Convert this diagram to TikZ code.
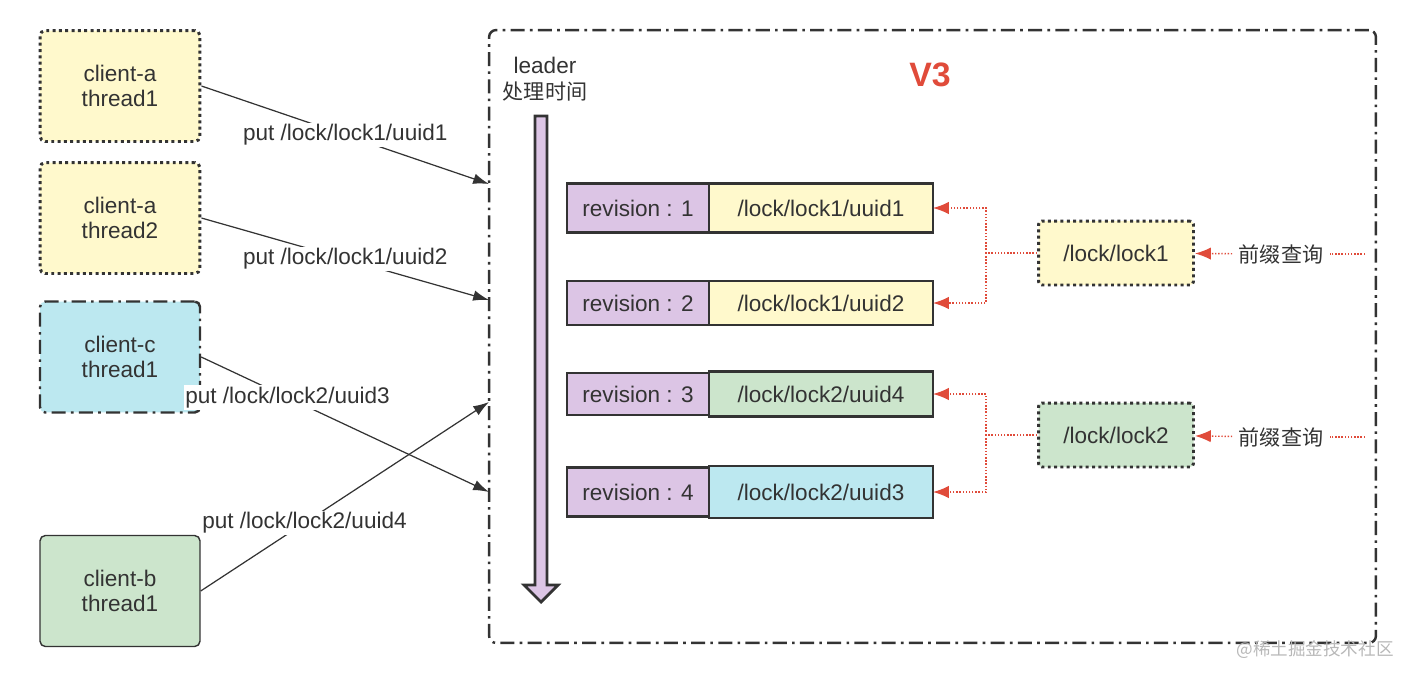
\documentclass[tikz,border=0pt]{standalone}
\usepackage{fontspec}
\setmainfont{Liberation Sans}[Scale=1.07]
\newfontfamily\cjk{Noto Sans CJK SC}
\usetikzlibrary{arrows.meta,positioning}

\begin{document}
\begin{tikzpicture}[x=0.02cm,y=-0.02cm]
	\definecolor{cline}{rgb}{0.2,0.2,0.2}
	\definecolor{cyel}{rgb}{1.0,0.976,0.8}
	\definecolor{cgrn}{rgb}{0.80,0.898,0.80}
	\definecolor{ccyan}{rgb}{0.737,0.91,0.941}
	\definecolor{cpur}{rgb}{0.863,0.773,0.898}
	\definecolor{cred}{rgb}{0.878,0.294,0.227}
	\definecolor{cmark}{rgb}{0.72,0.72,0.72}
	\tikzset{
		every node/.style={font=\fontsize{12}{14.5}\selectfont,text=cline},
		clientbox/.style={minimum width=3.2cm,minimum height=2.22cm,rounded corners=3pt,align=center,draw=cline},
		dotbox/.style={line width=1.7pt,dash pattern=on 1.7pt off 1.9pt},
		dashdot/.style={line width=1.4pt,dash pattern=on 8pt off 3pt on 1.5pt off 3pt},
		revbox/.style={draw=cline,line width=1.5pt,fill=cpur,minimum width=2.84cm,outer sep=0pt,inner sep=0pt},
		keybox/.style={draw=cline,line width=1.5pt,minimum width=4.48cm,outer sep=0pt,inner sep=0pt},
		lockbox/.style={draw=cline,dotbox,rounded corners=2pt,minimum width=3.1cm,minimum height=1.28cm},
		putarrow/.style={draw=cline,line width=0.7pt,-{Latex[length=9pt,width=6pt]}},
		putlabel/.style={fill=white,inner sep=1pt},
		redline/.style={draw=cred,line width=0.8pt,densely dotted},
		queryarrow/.style={redline,-{Latex[length=9pt,width=7pt]}},
	}
	\useasboundingbox (0,0) rectangle (1416,680);
	%
	\node[dashdot,draw=cline,rounded corners=4pt,minimum width=17.74cm,minimum height=12.26cm] (v3box) at (932.5,336.5) {};
	\node[text=cred,font=\fontsize{18}{20}\selectfont\bfseries] (v3) at (930,75) {V3};
	\node[align=center] (leader) at (545,79) {leader\\{\cjk 处理时间}};
	\draw[draw=cline,fill=cpur,line width=1.6pt] (535,116) -- (547,116) -- (547,585) -- (558,585) -- (541,602) -- (524,585) -- (535,585) -- cycle;
	%
	\node[clientbox,dotbox,fill=cyel] (ca1) at (120,86) {client-a\\thread1};
	\node[clientbox,dotbox,fill=cyel] (ca2) at (120,218) {client-a\\thread2};
	\node[clientbox,dashdot,fill=ccyan] (cc) at (120,357) {client-c\\thread1};
	\node[clientbox,line width=0.8pt,fill=cgrn] (cb) at (120,591) {client-b\\thread1};
	%
	\coordinate (in1) at (489,184);
	\coordinate (in2) at (489,300);
	\coordinate (in3) at (489,492);
	\coordinate (in4) at (489,402);
	\draw[putarrow] (ca1.east) -- node[putlabel] {put /lock/lock1/uuid1} (in1);
	\draw[putarrow] (ca2.east) -- node[putlabel] {put /lock/lock1/uuid2} (in2);
	\draw[putarrow] (cc.east) -- node[putlabel,pos=0.3] {put /lock/lock2/uuid3} (in3);
	\draw[putarrow] (cb.east) -- node[putlabel,pos=0.36] {put /lock/lock2/uuid4} (in4);
	%
	\node[revbox,minimum height=0.98cm] (rev1) at (638,208) {revision : 1};
	\node[keybox,fill=cyel,minimum height=0.98cm,right=0pt of rev1] (key1) {/lock/lock1/uuid1};
	\node[revbox,minimum height=0.88cm] (rev2) at (638,303) {revision : 2};
	\node[keybox,fill=cyel,minimum height=0.88cm,right=0pt of rev2] (key2) {/lock/lock1/uuid2};
	\node[revbox,minimum height=0.84cm] (rev3) at (638,394) {revision : 3};
	\node[keybox,fill=cgrn,minimum height=0.9cm,right=0pt of rev3] (key3) {/lock/lock2/uuid4};
	\node[revbox,minimum height=0.98cm] (rev4) at (638,492) {revision : 4};
	\node[keybox,fill=ccyan,minimum height=1.04cm,right=0pt of rev4] (key4) {/lock/lock2/uuid3};
	%
	\node[lockbox,fill=cyel] (lock1) at (1116,253) {/lock/lock1};
	\node[lockbox,fill=cgrn] (lock2) at (1116,435) {/lock/lock2};
	\coordinate (j1) at (986,253);
	\coordinate (j2) at (986,435);
	\draw[redline] (lock1.west) -- (j1);
	\draw[queryarrow] (j1) |- (key1.east);
	\draw[queryarrow] (j1) |- (key2.east);
	\draw[redline] (lock2.west) -- (j2);
	\draw[queryarrow] (j2) |- (key3.east);
	\draw[queryarrow] (j2) |- (key4.east);
	%
	\node (q1) at (1281,254) {\cjk 前缀查询};
	\node (q2) at (1281,437) {\cjk 前缀查询};
	\coordinate (e1) at (1365,254);
	\coordinate (e2) at (1365,437);
	\draw[redline] (e1) -- (q1);
	\draw[queryarrow] (q1) -- (lock1);
	\draw[redline] (e2) -- (q2);
	\draw[queryarrow] (q2) -- (lock2);
	%
	\node[text=cmark,font=\fontsize{10}{12}\selectfont\cjk] (mark) at (1315,650) {@稀土掘金技术社区};
	%
\end{tikzpicture}
\end{document}
